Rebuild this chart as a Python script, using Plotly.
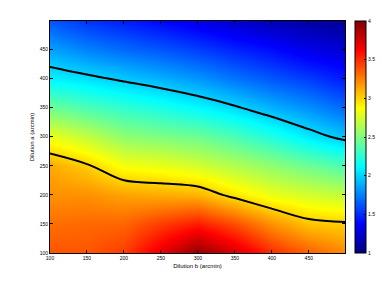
import plotly.graph_objects as go

# Grid coordinates (arcmin)
dilution_b = [100, 150, 200, 250, 300, 350, 400, 450, 500]
dilution_a = [100, 150, 200, 250, 300, 350, 400, 450, 500]

# Values read per column (each list: z at dilution_a values for one dilution_b)
col_100 = [3.38, 3.30, 3.20, 3.13, 2.82, 2.45, 2.10, 1.85, 1.62]
col_150 = [3.38, 3.32, 3.20, 3.02, 2.70, 2.35, 2.04, 1.75, 1.52]
col_200 = [3.45, 3.33, 3.15, 2.85, 2.55, 2.27, 1.97, 1.68, 1.45]
col_250 = [3.70, 3.45, 3.12, 2.82, 2.50, 2.20, 1.90, 1.62, 1.38]
col_300 = [3.95, 3.55, 3.10, 2.75, 2.45, 2.12, 1.82, 1.55, 1.30]
col_350 = [3.75, 3.40, 2.95, 2.65, 2.35, 2.02, 1.72, 1.47, 1.22]
col_400 = [3.50, 3.20, 2.82, 2.55, 2.22, 1.90, 1.63, 1.40, 1.15]
col_450 = [3.35, 3.05, 2.75, 2.45, 2.07, 1.80, 1.55, 1.30, 1.10]
col_500 = [3.22, 3.02, 2.70, 2.35, 1.95, 1.68, 1.45, 1.25, 1.05]

columns = [col_100, col_150, col_200, col_250, col_300, col_350, col_400, col_450, col_500]
z = [[columns[j][i] for j in range(len(dilution_b))] for i in range(len(dilution_a))]

contour_levels = [2, 3]
tick_vals = [100, 150, 200, 250, 300, 350, 400, 450]
cbar_ticks = [1, 1.5, 2, 2.5, 3, 3.5, 4]

jet = [[0.0, 'rgb(0,0,128)'], [0.125, 'rgb(0,0,255)'], [0.375, 'rgb(0,255,255)'],
       [0.625, 'rgb(255,255,0)'], [0.875, 'rgb(255,0,0)'], [1.0, 'rgb(128,0,0)']]

font = dict(family="Liberation Sans, Arial, sans-serif", size=5, color="black")

fig = go.Figure()
fig.add_trace(go.Heatmap(
    x=dilution_b, y=dilution_a, z=z, zsmooth='best', colorscale=jet, zmin=1, zmax=4,
    colorbar=dict(x=1.034, xanchor='left', y=0.5, yanchor='middle', len=1, lenmode='fraction',
                  thickness=11, outlinewidth=1, outlinecolor='black', tickvals=cbar_ticks,
                  ticktext=[str(t) for t in cbar_ticks], ticks='inside', ticklen=2,
                  tickcolor='black', tickfont=font, xpad=0, ypad=0)
))
fig.add_trace(go.Contour(
    x=dilution_b, y=dilution_a, z=z, showscale=False,
    contours=dict(coloring='lines', start=contour_levels[0], end=contour_levels[-1], size=1),
    colorscale=[[0, 'black'], [1, 'black']], line=dict(width=2, color='black', smoothing=1),
    hoverinfo='skip'
))

axis_common = dict(showline=True, linecolor='black', linewidth=1, mirror='ticks', ticks='inside',
                   ticklen=3, tickcolor='black', tickfont=font, showgrid=False, zeroline=False,
                   tickvals=tick_vals, range=[100, 499], automargin=False)
fig.update_layout(
    width=382, height=286, margin=dict(l=50, r=37, t=21, b=33, autoexpand=False),
    paper_bgcolor='white', plot_bgcolor='white', font=font,
    xaxis=dict(title=dict(text='Dilution b (arcmin)', font=dict(size=6), standoff=3), **axis_common),
    yaxis=dict(title=dict(text='Dilution a (arcmin)', font=dict(size=6), standoff=4), **axis_common),
)
fig.write_html("out.html", config={'displayModeBar': False},
               post_script="document.body.style.margin='0';document.body.style.overflow='hidden';")
